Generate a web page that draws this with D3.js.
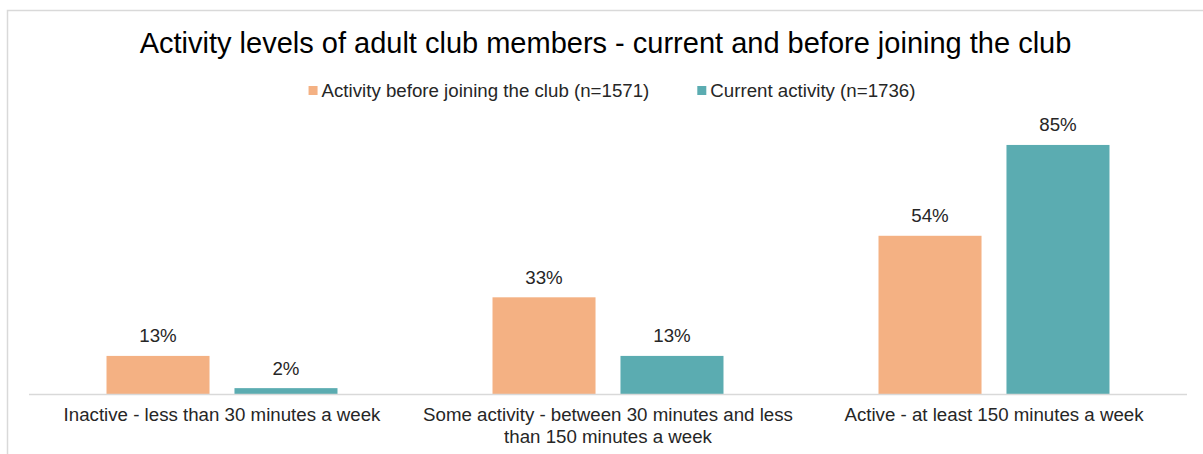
<!DOCTYPE html>
<html>
<head>
<meta charset="utf-8">
<script src="https://cdn.jsdelivr.net/npm/d3@7"></script>
<style>
  html, body { margin: 0; padding: 0; background: #fff; }
  svg { display: block; font-family: "Liberation Sans", Arial, sans-serif; }
</style>
</head>
<body>
<svg id="chart" width="1203" height="454"></svg>
<script>
// Chart data
const title = "Activity levels of adult club members - current and before joining the club";
const categories = [
  "Inactive - less than 30 minutes a week",
  "Some activity - between 30 minutes and less than 150 minutes a week",
  "Active - at least 150 minutes a week"
];
const seriesNames = ["Activity before joining the club (n=1571)", "Current activity (n=1736)"];
const beforeValues = [13, 33, 54];
const currentValues = [2, 13, 85];
const seriesColors = ["#F4B183", "#5BACB1"];

const svg = d3.select("#chart");
const W = 1203, H = 454;

// outer chart frame
svg.append("rect")
  .attr("x", 7.5).attr("y", 10.5)
  .attr("width", W + 20).attr("height", H + 20)
  .attr("fill", "#fff").attr("stroke", "#d9d9d9").attr("stroke-width", 1.5);

const plot = { left: 29, right: 1187, top: 101, bottom: 394 };

const x0 = d3.scaleBand()
  .domain(categories)
  .range([plot.left, plot.right])
  .paddingInner(0.4016)
  .paddingOuter(0.2008);

const x1 = d3.scaleBand()
  .domain([0, 1])
  .range([0, x0.bandwidth()])
  .paddingInner(0.195)
  .paddingOuter(0);

const y = d3.scaleLinear().domain([0, 100]).range([plot.bottom, plot.top]);

const rows = categories.map((c, i) => ({ cat: c, vals: [beforeValues[i], currentValues[i]] }));

// Title
svg.append("text")
  .attr("x", 605.5).attr("y", 52.5)
  .attr("text-anchor", "middle")
  .attr("font-size", 29)
  .attr("fill", "#000")
  .text(title);

// Legend
const legend = svg.append("g");
const items = legend.selectAll("g.item").data(seriesNames).join("g").attr("class", "item");
items.append("rect")
  .attr("width", 9).attr("height", 9)
  .attr("y", 86)
  .attr("fill", (d, i) => seriesColors[i]);
items.append("text")
  .attr("x", 13).attr("y", 96.5)
  .attr("font-size", 18.7)
  .attr("fill", "#262626")
  .text(d => d);
let lx = 0;
const gap = 48;
items.each(function () {
  const g = d3.select(this);
  g.attr("transform", `translate(${lx},0)`);
  lx += 13 + g.select("text").node().getComputedTextLength() + gap;
});
const legendW = lx - gap;
legend.attr("transform", `translate(${612 - legendW / 2},0)`);

// Bars
const groups = svg.append("g").selectAll("g.group").data(rows).join("g")
  .attr("class", "group")
  .attr("transform", d => `translate(${x0(d.cat)},0)`);

groups.selectAll("rect").data(d => d.vals.map((v, i) => ({ v, i }))).join("rect")
  .attr("x", d => x1(d.i))
  .attr("width", x1.bandwidth())
  .attr("y", d => y(d.v))
  .attr("height", d => y(0) - y(d.v))
  .attr("fill", d => seriesColors[d.i]);

groups.selectAll("text.val").data(d => d.vals.map((v, i) => ({ v, i }))).join("text")
  .attr("class", "val")
  .attr("x", d => x1(d.i) + x1.bandwidth() / 2)
  .attr("y", d => y(d.v) - 13.5)
  .attr("text-anchor", "middle")
  .attr("font-size", 18.7)
  .attr("fill", "#262626")
  .text(d => d.v + "%");

// Category axis
const xAxis = svg.append("g")
  .attr("transform", `translate(0,${plot.bottom})`)
  .call(d3.axisBottom(x0).tickSize(0).tickPadding(0));
xAxis.select(".domain").attr("stroke", "#d9d9d9").attr("stroke-width", 1.5)
  .attr("d", `M${plot.left},0.5H${plot.right}`);
xAxis.selectAll(".tick text")
  .attr("font-size", 18.7)
  .attr("font-family", "Liberation Sans, Arial, sans-serif")
  .attr("fill", "#262626")
  .attr("dy", null)
  .attr("y", 27)
  .call(wrap, x0.step() - 10);

function wrap(sel, width) {
  sel.each(function () {
    const t = d3.select(this);
    const words = t.text().split(/\s+/);
    t.text(null);
    let line = [];
    let lineNo = 0;
    let tspan = t.append("tspan").attr("x", 0).attr("y", 27);
    for (const w of words) {
      line.push(w);
      tspan.text(line.join(" "));
      if (tspan.node().getComputedTextLength() > width && line.length > 1) {
        line.pop();
        tspan.text(line.join(" "));
        line = [w];
        lineNo++;
        tspan = t.append("tspan").attr("x", 0).attr("y", 27 + lineNo * 21.5).text(w);
      }
    }
  });
}
</script>
</body>
</html>
